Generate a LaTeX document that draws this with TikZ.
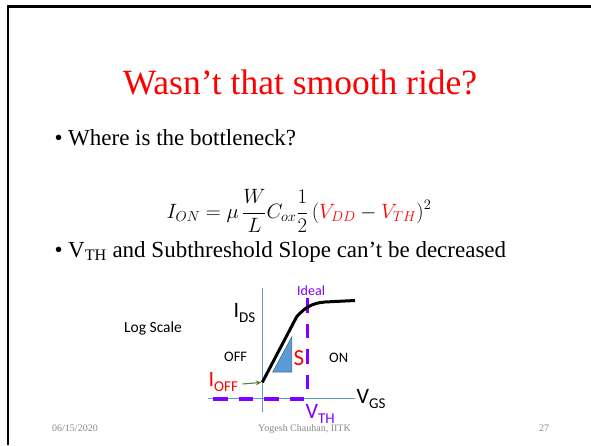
\documentclass[tikz,border=0pt]{standalone}
\usepackage{fontspec}
\setmainfont{Liberation Serif}
\newfontfamily\calibri{Carlito}
\usepackage{xcolor}
\usetikzlibrary{arrows.meta, positioning}

\definecolor{idealpurple}{RGB}{127,0,255}
\definecolor{axisblue}{RGB}{91,155,213}
\definecolor{triborder}{RGB}{65,113,156}
\definecolor{arrowgreen}{RGB}{84,130,53}
\definecolor{footgray}{RGB}{137,137,137}

\newcommand{\lowsub}[1]{\raisebox{-5pt}{\fontsize{15}{17}\selectfont #1}}

\tikzstyle{slidetext} = [inner sep=0pt, anchor=base west, font=\fontsize{23}{27}\selectfont]
\tikzstyle{plotlabel} = [inner sep=0pt, anchor=base west, font=\calibri\fontsize{14.5}{17}\selectfont]
\tikzstyle{biglabel} = [inner sep=0pt, anchor=base west, font=\calibri\fontsize{22}{26}\selectfont]
\tikzstyle{footer} = [inner sep=0pt, anchor=base west, text=footgray, font=\fontsize{10}{12}\selectfont]
\tikzstyle{axis} = [axisblue, line width=0.8pt]
\tikzstyle{idealline} = [idealpurple, line width=3.2pt, dash pattern=on 14.5pt off 11pt]
\tikzstyle{ivcurve} = [black, line width=3pt, line join=round]
\tikzstyle{offarrow} = [-{Stealth[length=5.5pt, width=5pt]}, arrowgreen, line width=1.1pt]

\begin{document}
\begin{tikzpicture}[x=1pt, y=-1pt]
  \useasboundingbox (0,0) rectangle (591,445);

  % Slide frame
  \draw[line width=2.5pt] (7.8,445) -- (7.8,6.6) -- (591,6.6);

  % Title and bullets
  \node[inner sep=0pt, anchor=base, text=red, font=\fontsize{35.5}{40}\selectfont] (title) at (300,94) {Wasn’t that smooth ride?};
  \node[slidetext] (bottleneck) at (54.5,145) {\makebox[13.5pt][l]{\textbullet}Where is the bottleneck?};
  \node[inner sep=0pt, anchor=base, font=\fontsize{22.3}{26}\selectfont] (ionEq) at (299,218)
    {$\displaystyle I_{ON} = \mu\,\frac{W}{L}C_{ox}\frac{1}{2}\,(\textcolor{red}{V_{DD}} - \textcolor{red}{V_{TH}})^2$};
  \node[slidetext] (vthLine) at (54.5,257) {\makebox[13.5pt][l]{\textbullet}V\textsubscript{TH} and Subthreshold Slope can’t be decreased};

  % Axes
  \draw[axis] (262.3,288) -- (262.3,412);
  \draw[axis] (208,398.7) -- (355,398.7);

  % Ideal switch
  \draw[idealline] (307.3,298) -- (307.3,399);
  \draw[idealline] (213,399) -- (305,399);

  % Slope triangle and real curve
  \filldraw[fill=axisblue, draw=triborder, line width=0.6pt] (272.7,372) -- (291.7,337) -- (291.7,372) -- cycle;
  \coordinate (offpt) at (262.3,382.3);
  \draw[ivcurve] (offpt) -- (296.7,316.7) .. controls (305,307.5) and (312,303) .. (325,302) -- (355,300.5);

  % Labels
  \node[plotlabel, text=idealpurple, font=\calibri\fontsize{14}{16}\selectfont] (ideal) at (297,295) {Ideal};
  \node[biglabel] (ids) at (233.5,317) {I\lowsub{DS}};
  \node[plotlabel, font=\calibri\fontsize{15.5}{18}\selectfont] (logscale) at (124,332) {Log Scale};
  \node[plotlabel] (offreg) at (224,361) {OFF};
  \node[plotlabel] (onreg) at (329,362) {ON};
  \node[biglabel, text=red, font=\calibri\fontsize{23}{27}\selectfont] (slope) at (293.5,365) {S};
  \node[biglabel, text=red] (ioff) at (208.5,386) {I\lowsub{OFF}};
  \node[biglabel] (vgs) at (356.5,403) {V\lowsub{GS}};
  \node[biglabel, text=idealpurple] (vth) at (305.5,418) {V\lowsub{TH}};

  \coordinate (offtail) at (242.5,384);
  \draw[offarrow, shorten >=1pt] (offtail) -- (offpt);

  % Footer
  \node[footer] (date) at (52,431) {06/15/2020};
  \node[footer] (author) at (258,431) {Yogesh Chauhan, IITK};
  \node[footer] (pageno) at (539,431) {27};

\end{tikzpicture}
\end{document}
